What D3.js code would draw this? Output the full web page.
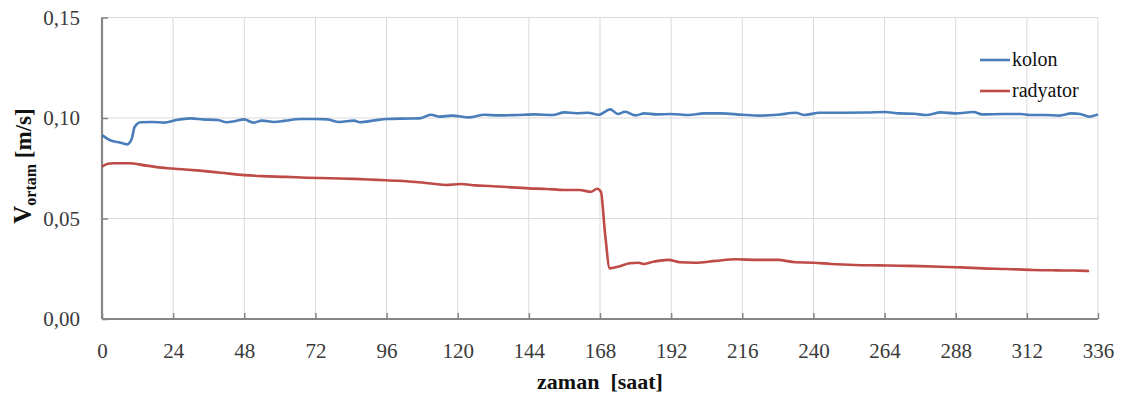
<!DOCTYPE html>
<html>
<head>
<meta charset="utf-8">
<script src="https://cdn.jsdelivr.net/npm/d3@7"></script>
<style>
  html, body { margin: 0; padding: 0; background: #fff; }
  svg { display: block; }
  svg text { font-family: "Liberation Serif", "Times New Roman", Tinos, "DejaVu Serif", "Noto Serif", serif; }
</style>
</head>
<body>
<svg id="chart" width="1128" height="397"></svg>
<script>
// Mean air velocity over two weeks for column and radiator heaters
const kolonHours = [0, 3, 6, 8.5, 10, 11, 13, 17, 21, 25, 30, 34, 39, 42, 45, 48, 51, 54, 58, 62, 67, 72, 76, 80, 85, 87, 92, 96, 102, 107, 111, 114, 118, 124, 129, 134, 140, 146, 152, 156, 160, 164, 167.5, 171.5, 174, 176.5, 180, 183, 187, 192, 198, 203, 209, 216, 222, 228, 234, 237, 242, 250, 258, 264, 269, 274, 278, 283, 288, 294, 297, 304, 310, 313, 318, 323, 327, 330, 333, 336];
const kolonValues = [0.0915, 0.0888, 0.0878, 0.0869, 0.0895, 0.0955, 0.0979, 0.0980, 0.0977, 0.0990, 0.0998, 0.0993, 0.0990, 0.0979, 0.0985, 0.0993, 0.0977, 0.0987, 0.0980, 0.0987, 0.0995, 0.0995, 0.0993, 0.0980, 0.0987, 0.0979, 0.0988, 0.0995, 0.0997, 0.0998, 0.1016, 0.1007, 0.1012, 0.1003, 0.1016, 0.1013, 0.1015, 0.1018, 0.1015, 0.1028, 0.1024, 0.1026, 0.1016, 0.1043, 0.1020, 0.1031, 0.1013, 0.1023, 0.1018, 0.1020, 0.1015, 0.1023, 0.1023, 0.1016, 0.1012, 0.1016, 0.1026, 0.1015, 0.1026, 0.1026, 0.1027, 0.1030, 0.1023, 0.1021, 0.1015, 0.1028, 0.1023, 0.1030, 0.1018, 0.1020, 0.1020, 0.1015, 0.1015, 0.1012, 0.1023, 0.1020, 0.1007, 0.1018];

const radyatorHours = [0, 2, 4, 9, 15, 22, 28, 33, 40, 48, 54, 62, 69, 77, 85, 93, 100, 108, 116, 121, 126, 131, 138, 144, 150, 156, 161, 165, 167, 168.3, 169.7, 171.3, 174, 178, 181, 182.6, 186, 191, 195, 200, 207, 214, 221, 228, 234, 240, 246, 254, 262, 269, 276, 283, 290, 297, 305, 314, 322, 328, 333];
const radyatorValues = [0.0758, 0.0772, 0.0775, 0.0775, 0.0763, 0.0750, 0.0744, 0.0738, 0.0728, 0.0716, 0.0711, 0.0707, 0.0703, 0.0700, 0.0697, 0.0692, 0.0688, 0.0679, 0.0667, 0.0672, 0.0665, 0.0662, 0.0655, 0.0650, 0.0647, 0.0642, 0.0642, 0.0633, 0.0648, 0.0633, 0.0426, 0.0252, 0.0260, 0.0277, 0.0280, 0.0274, 0.0285, 0.0294, 0.0282, 0.0280, 0.0289, 0.0297, 0.0294, 0.0294, 0.0282, 0.0280, 0.0274, 0.0269, 0.0267, 0.0265, 0.0263, 0.0260, 0.0257, 0.0252, 0.0249, 0.0244, 0.0242, 0.0241, 0.0239];

const xTicks = [0, 24, 48, 72, 96, 120, 144, 168, 192, 216, 240, 264, 288, 312, 336];
const yTicks = [0, 0.05, 0.10, 0.15];
const seriesNames = ["kolon", "radyator"];
const seriesColors = ["#4A7EBB", "#BE4B48"];

const svg = d3.select("#chart");
const margin = { left: 102, right: 30, top: 17.5, bottom: 78 };
const W = 1128, H = 397;
const x = d3.scaleLinear().domain([0, 336]).range([margin.left, W - margin.right]);
const y = d3.scaleLinear().domain([0, 0.15]).range([H - margin.bottom, margin.top]);

const fmt = v => d3.format(".2f")(v).replace(".", ",");

// gridlines
svg.append("g").selectAll("line.vg").data(xTicks.filter(t => t > 0)).join("line")
  .attr("x1", d => x(d)).attr("x2", d => x(d))
  .attr("y1", y(0)).attr("y2", y(0.15))
  .attr("stroke", "#d9d9d9").attr("stroke-width", 1);
svg.append("g").selectAll("line.hg").data(yTicks.filter(t => t > 0)).join("line")
  .attr("x1", x(0)).attr("x2", x(336))
  .attr("y1", d => y(d)).attr("y2", d => y(d))
  .attr("stroke", "#d9d9d9").attr("stroke-width", 1);

// axes
const xAxis = svg.append("g").attr("transform", `translate(0,${y(0)})`)
  .call(d3.axisBottom(x).tickValues(xTicks).tickSize(-6).tickPadding(24).tickFormat(d3.format("d")));
const yAxis = svg.append("g").attr("transform", `translate(${x(0)},0)`)
  .call(d3.axisLeft(y).tickValues(yTicks).tickSize(-6).tickPadding(22).tickFormat(fmt));
[xAxis, yAxis].forEach(g => {
  g.attr("font-family", null).attr("font-size", null);
  g.select(".domain").attr("stroke", "#868686").attr("stroke-width", 2.2);
  g.selectAll(".tick line").attr("stroke", "#868686").attr("stroke-width", 1.5);
  g.selectAll(".tick text").attr("font-size", 21).attr("fill", "#3a3a3a");
});
xAxis.select(".domain").attr("d", `M${x(0)},0H${x(336)}`);
yAxis.select(".domain").attr("d", `M0,${y(0)}V${y(0.15)}`);

// series lines
const line = d3.line().x(d => x(d[0])).y(d => y(d[1])).curve(d3.curveMonotoneX);
const series = [
  d3.zip(kolonHours, kolonValues),
  d3.zip(radyatorHours, radyatorValues)
];
svg.append("g").selectAll("path.series").data(series).join("path")
  .attr("d", line)
  .attr("fill", "none")
  .attr("stroke", (d, i) => seriesColors[i])
  .attr("stroke-width", 2.6)
  .attr("stroke-linejoin", "round");

// legend
const legend = svg.append("g");
seriesNames.forEach((name, i) => {
  const ly = 60 + i * 31;
  legend.append("line").attr("x1", 980).attr("x2", 1010).attr("y1", ly).attr("y2", ly)
    .attr("stroke", seriesColors[i]).attr("stroke-width", 2.6);
  legend.append("text").attr("x", 1012).attr("y", ly + 6)
    .attr("font-size", 20).attr("fill", "#111").text(name);
});

// axis titles
svg.append("text").attr("x", x(168)).attr("y", 389).attr("text-anchor", "middle")
  .attr("font-size", 22).attr("font-weight", "bold").attr("fill", "#111")
  .attr("xml:space", "preserve").text("zaman  [saat]");

const yt = svg.append("text").attr("transform", `translate(31,166) rotate(-90)`)
  .attr("text-anchor", "middle").attr("font-weight", "bold").attr("fill", "#111");
yt.append("tspan").attr("font-size", 25).text("V");
yt.append("tspan").attr("font-size", 16).attr("dy", 5).text("ortam");
yt.append("tspan").attr("font-size", 23).attr("dy", -5).text(" [m/s]");
</script>
</body>
</html>
